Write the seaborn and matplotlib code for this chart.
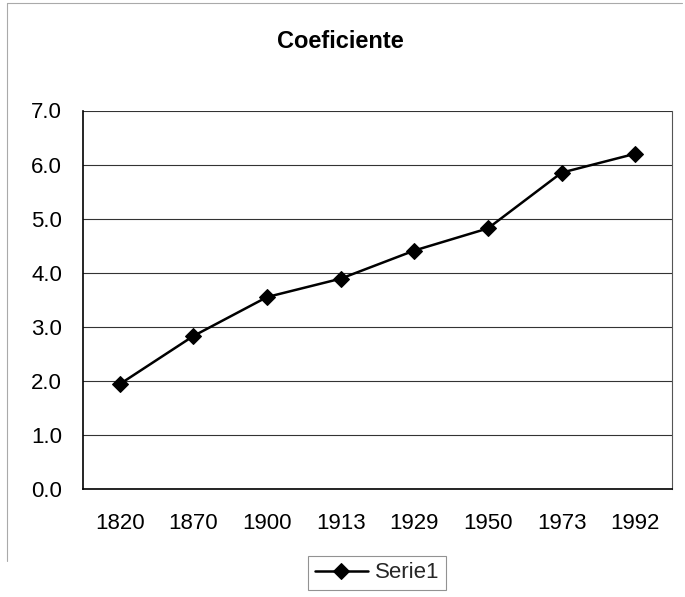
import numpy as np
import pandas as pd
import seaborn as sns
import matplotlib.pyplot as plt
from matplotlib.lines import Line2D

years = ['1820', '1870', '1900', '1913', '1929', '1950', '1973', '1992']
coef = [1.94, 2.83, 3.55, 3.89, 4.41, 4.82, 5.85, 6.20]
yticks = [0.0, 1.0, 2.0, 3.0, 4.0, 5.0, 6.0, 7.0]

df = pd.DataFrame({'year': years, 'coef': coef})

sns.set_theme(style="white")
plt.rcParams['font.family'] = ['Liberation Sans', 'DejaVu Sans']

fig = plt.figure(figsize=(6.85, 5.97), dpi=100)
ax = fig.add_axes([83 / 685, 108 / 597, 589 / 685, 378.5 / 597])

sns.lineplot(data=df, x='year', y='coef', color='black', marker='D',
             markersize=8, linewidth=1.8, markeredgecolor='black',
             sort=False, label='Serie1', ax=ax)

ax.set_xlim(-0.5, len(years) - 0.5)
ax.set_ylim(0, 7)
ax.set_yticks(yticks)
ax.set_yticklabels([f'{v:.1f}' for v in yticks])
ax.set_xlabel('')
ax.set_ylabel('')
ax.yaxis.grid(True, color='#333333', linewidth=0.8)
ax.set_axisbelow(True)

ax.tick_params(axis='y', length=3, width=0.8, color='black', direction='out',
               labelsize=16, pad=12, labelcolor='black')
ax.tick_params(axis='x', length=0, labelsize=16, pad=17, labelcolor='black')
ax.set_xticks(np.arange(len(years)) + 0.5, minor=True)
ax.tick_params(axis='x', which='minor', length=3, direction='in', color='black')

for s in ['left', 'bottom']:
    ax.spines[s].set_color('black')
    ax.spines[s].set_linewidth(1.2)
for s in ['top', 'right']:
    ax.spines[s].set_color('#555555')
    ax.spines[s].set_linewidth(0.8)
ax.spines['top'].set_visible(False)

fig.text(0.497, 1 - 42 / 597, 'Coeficiente', ha='center', va='center',
         fontsize=17, fontweight='bold', color='black')

ax.get_legend().remove()
leg = fig.legend(loc='center', bbox_to_anchor=(377 / 685, 1 - 573 / 597),
                 frameon=True, fancybox=False, fontsize=16, handlelength=2.4,
                 handletextpad=0.3, borderpad=0.3)
leg.get_frame().set_edgecolor('#777777')
leg.get_frame().set_linewidth(0.8)

# faint chart-area border from the original
fig.add_artist(Line2D([7 / 685, 7 / 685], [0.06, 1 - 3 / 597], color='#aaaaaa', linewidth=0.8))
fig.add_artist(Line2D([7 / 685, 0.995], [1 - 3 / 597, 1 - 3 / 597], color='#aaaaaa', linewidth=0.8))

fig.savefig('out.png', dpi=100, facecolor='white')
